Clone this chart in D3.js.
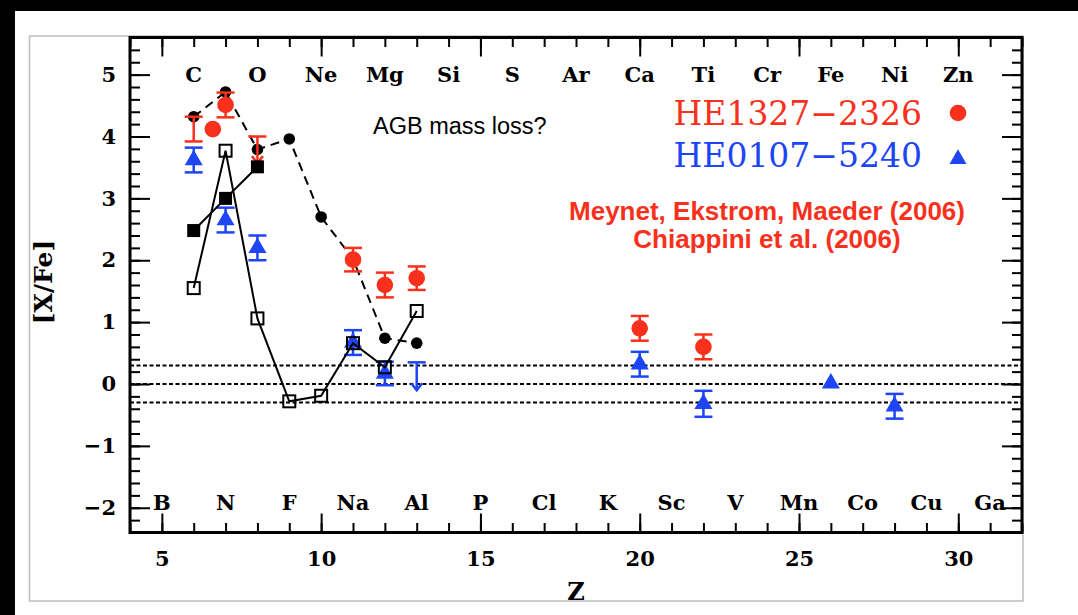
<!DOCTYPE html>
<html>
<head>
<meta charset="utf-8">
<script src="https://cdn.jsdelivr.net/npm/d3@7"></script>
<style>
  html, body { margin: 0; padding: 0; background: #fff; }
  svg { display: block; }
</style>
</head>
<body>
<svg id="chart" width="1078" height="615"></svg>
<script>
// ---- data ---------------------------------------------------------------
// element symbols along the top (even Z) and bottom (odd Z) rows
const topElements = ["C", "O", "Ne", "Mg", "Si", "S", "Ar", "Ca", "Ti", "Cr", "Fe", "Ni", "Zn"];
const topElementZ = [6, 8, 10, 12, 14, 16, 18, 20, 22, 24, 26, 28, 30];
const bottomElements = ["B", "N", "F", "Na", "Al", "P", "Cl", "K", "Sc", "V", "Mn", "Co", "Cu", "Ga"];
const bottomElementZ = [5, 7, 9, 11, 13, 15, 17, 19, 21, 23, 25, 27, 29, 31];

// axis ticks
const zMajorTicks = [5, 10, 15, 20, 25, 30];
const zMinorTicks = d3.range(4, 33, 1);
const yMajorTicks = [-2, -1, 0, 1, 2, 3, 4, 5];
const yMinorTicks = d3.range(-24, 57, 2).map(d => d / 10);

// solar level and its +/-0.3 dex band
const refLevels = [0.3, 0, -0.3];

// HE1327-2326 measurements (error bars at heZ, symbols at heMarkerZ)
const heZ       = [6,    7,    11,   12,   13,   20,   22];
const heMarkerZ = [6.6,  7,    11,   12,   13,   20,   22];
const heVal     = [4.12, 4.51, 2.01, 1.60, 1.71, 0.90, 0.60];
const heErr     = [0.20, 0.20, 0.19, 0.20, 0.19, 0.20, 0.20];
// HE1327-2326 upper limits
const heLimZ   = [8];
const heLimVal = [4.00];

// HE0107-5240 measurements
const heoZ   = [6,    7,    8,    11,   12,   20,   22,    26,   28];
const heoVal = [3.62, 2.65, 2.20, 0.67, 0.17, 0.32, -0.32, 0.01, -0.36];
const heoErr = [0.20, 0.20, 0.20, 0.20, 0.19, 0.20, 0.21,  0,    0.20];
// HE0107-5240 upper limits
const heoLimZ   = [13];
const heoLimVal = [0.35];

// rotating-massive-star models
const modelAZ = [6, 7, 8, 9, 10, 11, 12, 13];
const modelAVal = [4.32, 4.72, 3.79, 3.96, 2.70, 2.02, 0.74, 0.66];   // dashed, filled circles
const modelBZ = [6, 7, 8];
const modelBVal = [2.48, 3.00, 3.51];                                 // solid, filled squares
const modelCZ = [6, 7, 8, 9, 10, 11, 12, 13];
const modelCVal = [1.55, 3.77, 1.06, -0.28, -0.19, 0.66, 0.27, 1.18]; // solid, open squares

const legendNames = ["HE1327\u22122326", "HE0107\u22125240"];
const creditLines = ["Meynet, Ekstrom, Maeder (2006)", "Chiappini et al. (2006)"];
const noteText = "AGB mass loss?";

// ---- layout & styles ------------------------------------------------------
const RED = "#f8301c", BLUE = "#1d45f4";
const serifBold = "'DejaVu Serif', serif";
const plot = { left: 130, right: 1022, top: 37.5, bottom: 532.5 };

const svg = d3.select("#chart");

// page frame
svg.append("rect").attr("x", 0).attr("y", 0).attr("width", 1078).attr("height", 615).attr("fill", "#fff");
svg.append("rect").attr("x", 0).attr("y", 0).attr("width", 1078).attr("height", 11).attr("fill", "#000");
svg.append("rect").attr("x", 0).attr("y", 0).attr("width", 15).attr("height", 615).attr("fill", "#000");
svg.append("rect").attr("x", 29.5).attr("y", 36).attr("width", 993.5).attr("height", 565)
  .attr("fill", "none").attr("stroke", "#bdbdbd").attr("stroke-width", 1.5);

const x = d3.scaleLinear().domain([4, 32]).range([plot.left, plot.right]);
const y = d3.scaleLinear().domain([-2.4, 5.6]).range([plot.bottom, plot.top]);

// ---- ticks on all four sides ---------------------------------------------
function tickLayer(axis, tx, ty) {
  const g = svg.append("g").attr("transform", `translate(${tx},${ty})`).call(axis);
  g.select(".domain").remove();
  g.selectAll(".tick line").attr("stroke", "#000").attr("stroke-width", 2);
  g.selectAll(".tick text").remove();
  return g;
}
// bottom (ticks pointing up into the plot)
tickLayer(d3.axisTop(x).tickValues(zMinorTicks).tickSize(9.5), 0, plot.bottom);
tickLayer(d3.axisTop(x).tickValues(zMajorTicks).tickSize(19), 0, plot.bottom);
// top (ticks pointing down)
tickLayer(d3.axisBottom(x).tickValues(zMinorTicks).tickSize(9.5), 0, plot.top);
tickLayer(d3.axisBottom(x).tickValues(zMajorTicks).tickSize(19), 0, plot.top);
// left (ticks pointing right)
tickLayer(d3.axisRight(y).tickValues(yMinorTicks).tickSize(10), plot.left, 0);
tickLayer(d3.axisRight(y).tickValues(yMajorTicks).tickSize(20), plot.left, 0);
// right (ticks pointing left)
tickLayer(d3.axisLeft(y).tickValues(yMinorTicks).tickSize(10), plot.right, 0);
tickLayer(d3.axisLeft(y).tickValues(yMajorTicks).tickSize(20), plot.right, 0);

// tick labels
function labelLayer(axis, tx, ty) {
  const g = svg.append("g").attr("transform", `translate(${tx},${ty})`).call(axis);
  g.select(".domain").remove();
  g.selectAll(".tick line").remove();
  g.selectAll(".tick text")
    .attr("font-family", serifBold).attr("font-weight", "bold")
    .attr("font-size", 21).attr("fill", "#000");
  return g;
}
labelLayer(d3.axisBottom(x).tickValues(zMajorTicks).tickSize(0).tickPadding(18.6).tickFormat(d3.format("d")), 0, plot.bottom);
labelLayer(d3.axisLeft(y).tickValues(yMajorTicks).tickSize(0).tickPadding(14).tickFormat(d3.format("d")), plot.left, 0);

// axis titles
svg.append("text")
  .attr("x", (plot.left + plot.right) / 2).attr("y", 600)
  .attr("text-anchor", "middle")
  .attr("font-family", serifBold).attr("font-weight", "bold").attr("font-size", 24)
  .text("Z");
svg.append("text")
  .attr("transform", "translate(52,282) rotate(-90)")
  .attr("text-anchor", "middle")
  .attr("font-family", serifBold).attr("font-weight", "bold").attr("font-size", 25)
  .text("[X/Fe]");

// element symbols
svg.append("g").selectAll("text").data(topElements).join("text")
  .attr("x", (d, i) => x(topElementZ[i])).attr("y", 82)
  .attr("text-anchor", "middle")
  .attr("font-family", serifBold).attr("font-weight", "bold").attr("font-size", 21)
  .text(d => d);
svg.append("g").selectAll("text").data(bottomElements).join("text")
  .attr("x", (d, i) => x(bottomElementZ[i])).attr("y", 509.5)
  .attr("text-anchor", "middle")
  .attr("font-family", serifBold).attr("font-weight", "bold").attr("font-size", 21)
  .text(d => d);

// ---- reference levels -------------------------------------------------------
svg.append("g").selectAll("line").data(refLevels).join("line")
  .attr("x1", plot.left).attr("x2", plot.right)
  .attr("y1", d => y(d)).attr("y2", d => y(d))
  .attr("stroke", "#000").attr("stroke-width", 2).attr("stroke-dasharray", "4,2.5");

// ---- model A (dashed line, filled circles) ----------------------------------
const line = d3.line().x(d => x(d[0])).y(d => y(d[1]));
const modelA = modelAZ.map((z, i) => [z, modelAVal[i]]);
svg.append("path").datum(modelA).attr("d", line)
  .attr("fill", "none").attr("stroke", "#000").attr("stroke-width", 2).attr("stroke-dasharray", "9,6");
svg.append("g").selectAll("circle").data(modelA).join("circle")
  .attr("cx", d => x(d[0])).attr("cy", d => y(d[1])).attr("r", 5.8).attr("fill", "#000");

// ---- observations -------------------------------------------------------------
function errorBars(zs, vals, errs, color) {
  const g = svg.append("g").attr("stroke", color).attr("stroke-width", 2.5).attr("fill", "none");
  zs.forEach((z, i) => {
    if (!errs[i]) return;
    const cx = x(z), y1 = y(vals[i] + errs[i]), y2 = y(vals[i] - errs[i]);
    g.append("line").attr("x1", cx).attr("x2", cx).attr("y1", y1).attr("y2", y2);
    g.append("line").attr("x1", cx - 9).attr("x2", cx + 9).attr("y1", y1).attr("y2", y1);
    g.append("line").attr("x1", cx - 9).attr("x2", cx + 9).attr("y1", y2).attr("y2", y2);
  });
}
function upperLimits(zs, vals, drop, color) {
  const g = svg.append("g").attr("stroke", color).attr("stroke-width", 2.5).attr("fill", "none");
  zs.forEach((z, i) => {
    const cx = x(z), y1 = y(vals[i]), y2 = y(vals[i] - drop);
    g.append("line").attr("x1", cx - 9).attr("x2", cx + 9).attr("y1", y1).attr("y2", y1);
    g.append("line").attr("x1", cx).attr("x2", cx).attr("y1", y1).attr("y2", y2);
    g.append("path").attr("d", `M${cx - 5.5},${y2 - 7}L${cx},${y2}L${cx + 5.5},${y2 - 7}`);
  });
}

// HE1327-2326
errorBars(heZ, heVal, heErr, RED);
upperLimits(heLimZ, heLimVal, 0.43, RED);
svg.append("g").selectAll("circle").data(heVal).join("circle")
  .attr("cx", (d, i) => x(heMarkerZ[i])).attr("cy", d => y(d)).attr("r", 8.3).attr("fill", RED);

// HE0107-5240
errorBars(heoZ, heoVal, heoErr, BLUE);
upperLimits(heoLimZ, heoLimVal, 0.45, BLUE);
const tri = d3.symbol().type(d3.symbolTriangle).size(140);
svg.append("g").selectAll("path").data(heoVal).join("path")
  .attr("d", tri)
  .attr("transform", (d, i) => `translate(${x(heoZ[i])},${y(d)})`)
  .attr("fill", BLUE);

// ---- models B and C (solid lines) -------------------------------------------
const modelB = modelBZ.map((z, i) => [z, modelBVal[i]]);
svg.append("path").datum(modelB).attr("d", line)
  .attr("fill", "none").attr("stroke", "#000").attr("stroke-width", 2);
svg.append("g").selectAll("rect").data(modelB).join("rect")
  .attr("x", d => x(d[0]) - 6.5).attr("y", d => y(d[1]) - 6.5)
  .attr("width", 13).attr("height", 13).attr("fill", "#000");

const modelC = modelCZ.map((z, i) => [z, modelCVal[i]]);
svg.append("path").datum(modelC).attr("d", line)
  .attr("fill", "none").attr("stroke", "#000").attr("stroke-width", 2);
svg.append("g").selectAll("rect").data(modelC).join("rect")
  .attr("x", d => x(d[0]) - 6).attr("y", d => y(d[1]) - 6)
  .attr("width", 12).attr("height", 12)
  .attr("fill", "none").attr("stroke", "#000").attr("stroke-width", 2);

// ---- frame --------------------------------------------------------------------
svg.append("rect")
  .attr("x", plot.left).attr("y", plot.top)
  .attr("width", plot.right - plot.left).attr("height", plot.bottom - plot.top)
  .attr("fill", "none").attr("stroke", "#000").attr("stroke-width", 3);

// ---- annotations & legend -------------------------------------------------------
svg.append("text").attr("x", 373).attr("y", 134)
  .attr("font-family", "'Liberation Sans', Arial, sans-serif").attr("font-size", 23.5)
  .text(noteText);

const legendColors = [RED, BLUE];
svg.append("g").selectAll("text").data(legendNames).join("text")
  .attr("x", 922).attr("y", (d, i) => [125, 167][i])
  .attr("text-anchor", "end")
  .attr("font-family", "'DejaVu Serif', serif").attr("font-size", 33)
  .attr("fill", (d, i) => legendColors[i])
  .text(d => d);
svg.append("circle").attr("cx", 958).attr("cy", 113).attr("r", 8.3).attr("fill", RED);
svg.append("path").attr("d", d3.symbol().type(d3.symbolTriangle).size(125))
  .attr("transform", "translate(958,159)").attr("fill", BLUE);

svg.append("g").selectAll("text").data(creditLines).join("text")
  .attr("x", 767).attr("y", (d, i) => [220, 248][i])
  .attr("text-anchor", "middle")
  .attr("font-family", "'Liberation Sans', Arial, sans-serif")
  .attr("font-weight", "bold").attr("font-size", 26)
  .attr("fill", RED)
  .text(d => d);
</script>
</body>
</html>
